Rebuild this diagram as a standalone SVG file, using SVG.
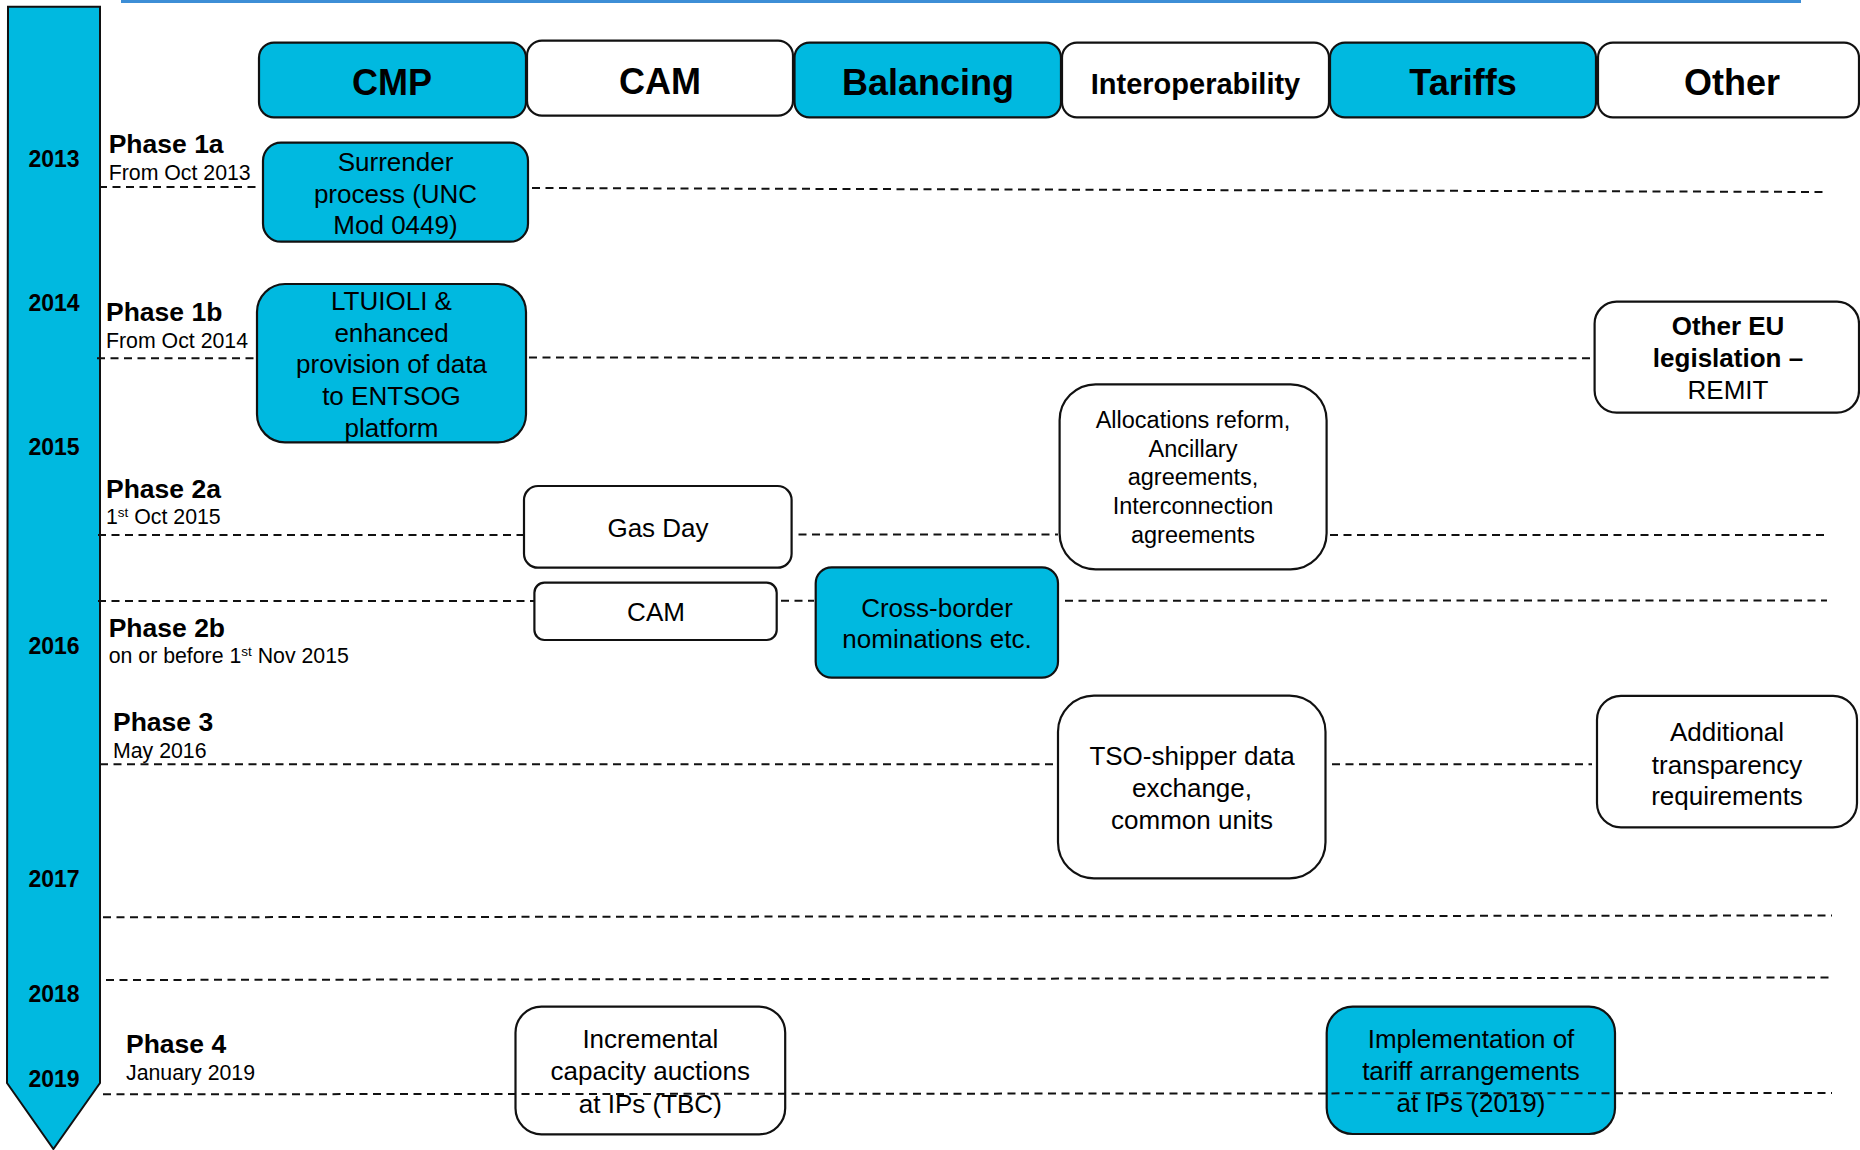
<svg xmlns="http://www.w3.org/2000/svg" width="1860" height="1150" viewBox="0 0 1860 1150">
<style>
.cy{fill:#00B9E0;stroke:#111;stroke-width:2.2}
.wh{fill:#fff;stroke:#111;stroke-width:2.2}
.hd{font-family:"Liberation Sans",Arial,sans-serif;font-weight:bold;font-size:36px;fill:#000;text-anchor:middle}
.tx{font-family:"Liberation Sans",Arial,sans-serif;font-size:26px;fill:#000;text-anchor:middle}
.ph{font-family:"Liberation Sans",Arial,sans-serif;font-weight:bold;font-size:26.5px;fill:#000}
.dt{font-family:"Liberation Sans",Arial,sans-serif;font-size:21.3px;fill:#000}
.yr{font-family:"Liberation Sans",Arial,sans-serif;font-weight:bold;font-size:23px;fill:#000;text-anchor:middle}
.dash{stroke:#111;stroke-width:2;stroke-dasharray:8 5.5;fill:none}
</style>
<rect width="1860" height="1150" fill="#fff"/>
<line x1="121" y1="1.5" x2="1801" y2="1.5" stroke="#3d8ed6" stroke-width="3"/>

<g id="timeline">
<polygon points="8,6.7 100,6.7 100,1083 53.4,1149 7,1083" fill="#00B9E0" stroke="#111" stroke-width="2"/>
<text class="yr" x="54" y="167">2013</text>
<text class="yr" x="54" y="311">2014</text>
<text class="yr" x="54" y="455">2015</text>
<text class="yr" x="54" y="654">2016</text>
<text class="yr" x="54" y="887">2017</text>
<text class="yr" x="54" y="1002">2018</text>
<text class="yr" x="54" y="1087">2019</text>
</g>

<g id="phases">
<text class="ph" x="108.7" y="152.7">Phase 1a</text>
<text class="dt" x="108.7" y="180">From Oct 2013</text>
<text class="ph" x="106" y="321">Phase 1b</text>
<text class="dt" x="106" y="347.7">From Oct 2014</text>
<text class="ph" x="106" y="498.3">Phase 2a</text>
<text class="dt" x="106" y="524">1<tspan dy="-7" font-size="13.5">st</tspan><tspan dy="7"> Oct 2015</tspan></text>
<text class="ph" x="108.7" y="636.7">Phase 2b</text>
<text class="dt" x="108.7" y="663.3">on or before 1<tspan dy="-7" font-size="13.5">st</tspan><tspan dy="7"> Nov 2015</tspan></text>
<text class="ph" x="113" y="731">Phase 3</text>
<text class="dt" x="113" y="758.3">May 2016</text>
<text class="ph" x="126" y="1053.3">Phase 4</text>
<text class="dt" x="126" y="1080">January 2019</text>
</g>

<g id="hdr-cmp"><rect class="cy" x="259" y="42.7" width="267" height="74.6" rx="15"/><text class="hd" x="392" y="95">CMP</text></g>
<g id="hdr-cam"><rect class="wh" x="527" y="40.7" width="266" height="75" rx="15"/><text class="hd" x="660" y="94">CAM</text></g>
<g id="hdr-balancing"><rect class="cy" x="794.5" y="42.7" width="266.5" height="74.6" rx="15"/><text class="hd" x="928" y="95">Balancing</text></g>
<g id="hdr-interop"><rect class="wh" x="1062" y="42.7" width="267" height="74.6" rx="15"/><text class="hd" x="1195.5" y="93.5" style="font-size:29px">Interoperability</text></g>
<g id="hdr-tariffs"><rect class="cy" x="1330" y="42.7" width="266" height="74.6" rx="15"/><text class="hd" x="1463" y="95">Tariffs</text></g>
<g id="hdr-other"><rect class="wh" x="1598" y="42.7" width="261" height="74.6" rx="15"/><text class="hd" x="1732" y="95">Other</text></g>

<g id="surrender"><rect class="cy" x="263" y="142.7" width="265" height="99" rx="18"/>
<text class="tx" x="395.5"><tspan x="395.5" y="171">Surrender</tspan><tspan x="395.5" y="202.5">process (UNC</tspan><tspan x="395.5" y="234">Mod 0449)</tspan></text></g>

<g id="ltuioli"><rect class="cy" x="257" y="284" width="269" height="158.3" rx="28"/>
<text class="tx" x="391.5"><tspan x="391.5" y="310">LTUIOLI &amp;</tspan><tspan x="391.5" y="341.7">enhanced</tspan><tspan x="391.5" y="373.3">provision of data</tspan><tspan x="391.5" y="405">to ENTSOG</tspan><tspan x="391.5" y="436.7">platform</tspan></text></g>

<g id="gasday"><rect class="wh" x="524" y="486" width="267.6" height="81.7" rx="14"/>
<text class="tx" x="658" y="536.7">Gas Day</text></g>

<g id="allocations"><rect class="wh" x="1059.6" y="384.3" width="267" height="185" rx="36"/>
<text class="tx" x="1193" style="font-size:23.5px"><tspan x="1193" y="428.3">Allocations reform,</tspan><tspan x="1193" y="456.5">Ancillary</tspan><tspan x="1193" y="485">agreements,</tspan><tspan x="1193" y="514">Interconnection</tspan><tspan x="1193" y="542.7">agreements</tspan></text></g>

<g id="cam2"><rect class="wh" x="534.4" y="582.7" width="242.3" height="57.3" rx="10"/>
<text class="tx" x="656" y="620.7">CAM</text></g>

<g id="crossborder"><rect class="cy" x="815.7" y="567.3" width="242.3" height="110.4" rx="16"/>
<text class="tx" x="937"><tspan x="937" y="616.7">Cross-border</tspan><tspan x="937" y="648.3">nominations etc.</tspan></text></g>

<g id="othereu"><rect class="wh" x="1594.6" y="301.7" width="264.4" height="110.9" rx="22"/>
<text class="tx" x="1728"><tspan x="1728" y="335" font-weight="bold">Other EU</tspan><tspan x="1728" y="366.7" font-weight="bold">legislation –</tspan><tspan x="1728" y="399.3">REMIT</tspan></text></g>

<g id="tso"><rect class="wh" x="1058" y="695.7" width="267.5" height="182.6" rx="36"/>
<text class="tx" x="1192"><tspan x="1192" y="765">TSO-shipper data</tspan><tspan x="1192" y="796.7">exchange,</tspan><tspan x="1192" y="829">common units</tspan></text></g>

<g id="additional"><rect class="wh" x="1597" y="695.8" width="260" height="131.5" rx="24"/>
<text class="tx" x="1727"><tspan x="1727" y="741">Additional</tspan><tspan x="1727" y="773.5">transparency</tspan><tspan x="1727" y="805">requirements</tspan></text></g>

<g id="incremental"><rect class="wh" x="515.5" y="1006.7" width="269.7" height="127.6" rx="26"/>
<text class="tx" x="650.3"><tspan x="650.3" y="1048.3">Incremental</tspan><tspan x="650.3" y="1080">capacity auctions</tspan><tspan x="650.3" y="1112.7">at IPs (TBC)</tspan></text></g>

<g id="implementation"><rect class="cy" x="1326.7" y="1006.7" width="288.3" height="127.3" rx="26"/>
<text class="tx" x="1471"><tspan x="1471" y="1048.3">Implementation of</tspan><tspan x="1471" y="1080">tariff arrangements</tspan><tspan x="1471" y="1111.7">at IPs (2019)</tspan></text></g>

<g id="connectors">
<line class="dash" x1="99" y1="187" x2="261" y2="187"/>
<line class="dash" x1="532" y1="188" x2="1826" y2="192"/>
<line class="dash" x1="97" y1="358.3" x2="257" y2="358.3"/>
<line class="dash" x1="529" y1="357.5" x2="1593" y2="358.3"/>
<line class="dash" x1="98" y1="535" x2="524" y2="535"/>
<line class="dash" x1="798.5" y1="534.5" x2="1058" y2="534.5"/>
<line class="dash" x1="1330" y1="535" x2="1827" y2="535"/>
<line class="dash" x1="98" y1="601" x2="534" y2="601"/>
<line class="dash" x1="781" y1="600.7" x2="814" y2="600.7"/>
<line class="dash" x1="1065" y1="600.7" x2="1827" y2="600.5"/>
<line class="dash" x1="100" y1="764.3" x2="1056" y2="764.3"/>
<line class="dash" x1="1332" y1="764.3" x2="1592" y2="764.3"/>
<line class="dash" x1="103" y1="917.3" x2="1832" y2="915.5"/>
<line class="dash" x1="106" y1="980" x2="1834" y2="977.5"/>
<line class="dash" x1="103" y1="1094.3" x2="1832" y2="1093"/>
</g>
</svg>
